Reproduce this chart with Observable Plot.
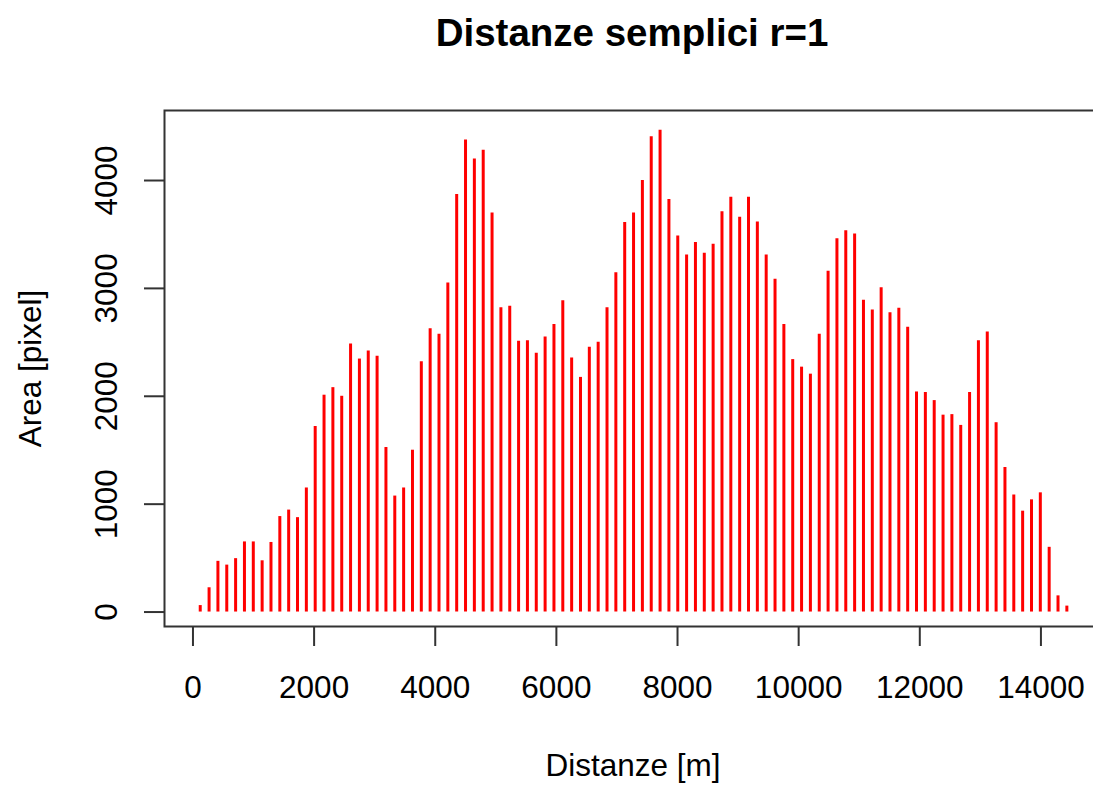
<!DOCTYPE html>
<html>
<head>
<meta charset="utf-8">
<script src="https://cdn.jsdelivr.net/npm/d3@7"></script>
<script src="https://cdn.jsdelivr.net/npm/@observablehq/plot@0.6"></script>
<style>
  html, body { margin: 0; padding: 0; background: #fff; overflow: hidden; width: 1093px; height: 788px; }
  #title { box-sizing: border-box; height: 90px; padding-top: 14px; margin: 0; width: 1110px;
           font-family: "Liberation Sans", Arial, sans-serif; font-weight: bold; font-size: 38.5px;
           line-height: 38px; text-align: left; color: #000; white-space: nowrap; }
  #title span { display: inline-block; position: relative; left: 632px; transform: translateX(-50%); }
  #chart { width: 1110px; }
  #chart svg { max-width: none !important; }
</style>
</head>
<body>
<div id="title"><span>Distanze semplici r=1</span></div>
<div id="chart"></div>
<script>
const distances = [120,266,412,558,704,850,996,1142,1288,1434,1580,1726,1872,2018,2164,2310,2456,2602,2748,2894,
  3040,3186,3332,3478,3624,3770,3916,4062,4208,4354,4500,4646,4792,4938,5084,5230,5376,5522,5668,5814,
  5960,6106,6252,6398,6544,6690,6836,6982,7128,7274,7420,7566,7712,7858,8004,8150,8296,8442,8588,8734,
  8880,9026,9172,9318,9464,9610,9756,9902,10048,10194,10340,10486,10632,10778,10924,11070,11216,11362,11508,11654,
  11800,11946,12092,12238,12384,12530,12676,12822,12968,13114,13260,13406,13552,13698,13844,13990,14136,14282,14428];
const areas = [60,225,470,435,495,650,650,475,645,885,945,875,1150,1720,2010,2080,2000,2485,2345,2420,
  2370,1525,1075,1150,1500,2320,2625,2575,3050,3870,4375,4200,4280,3700,2820,2835,2510,2515,2400,2550,
  2665,2885,2355,2175,2455,2500,2820,3145,3610,3700,4000,4405,4465,3825,3485,3310,3425,3325,3410,3710,
  3845,3660,3845,3615,3310,3085,2665,2340,2270,2205,2575,3160,3460,3535,3505,2890,2800,3005,2775,2815,
  2640,2040,2035,1960,1825,1830,1730,2035,2515,2595,1755,1340,1085,935,1040,1105,600,150,55];
const xTicks = [0,2000,4000,6000,8000,10000,12000,14000];
const yTicks = [0,1000,2000,3000,4000];
const xLabel = "Distanze [m]";
const yLabel = "Area [pixel]";

const data = distances.map((d, i) => ({distance: d, area: areas[i]}));

const W = 1110, H = 698;
const chart = Plot.plot({
  width: W,
  height: H,
  marginLeft: 164,
  marginRight: W - 1101,
  marginTop: 20,
  marginBottom: H - 536,
  style: {fontFamily: "Liberation Sans, Arial, sans-serif", fontSize: "31.5px", color: "#000", background: "#fff", overflow: "visible", maxWidth: "none"},
  x: {domain: [-470, 15000]},
  y: {domain: [-134, 4649]},
  marks: [
    Plot.ruleX(data, {x: "distance", y1: 0, y2: "area", stroke: "#ff0000", strokeWidth: 3}),
    Plot.frame({stroke: "#333", strokeWidth: 2}),
    Plot.axisX({ticks: xTicks, tickSize: 20, tickPadding: 29, tickFormat: d => String(d), stroke: "#333", strokeWidth: 2, label: null}),
    Plot.axisY({ticks: yTicks, tickSize: 20, tickFormat: () => "", stroke: "#333", strokeWidth: 2, label: null}),
    Plot.text(yTicks, {y: d => d, frameAnchor: "left", dx: -58, rotate: -90, text: d => String(d), textAnchor: "middle", lineAnchor: "middle", fill: "#000"}),
    Plot.text([xLabel], {frameAnchor: "bottom", text: d => d, dy: 149, lineAnchor: "bottom", fill: "#000"}),
    Plot.text([yLabel], {frameAnchor: "left", text: d => d, dx: -134, rotate: -90, textAnchor: "middle", lineAnchor: "middle", fill: "#000"})
  ]
});
document.getElementById("chart").appendChild(chart);
</script>
</body>
</html>
